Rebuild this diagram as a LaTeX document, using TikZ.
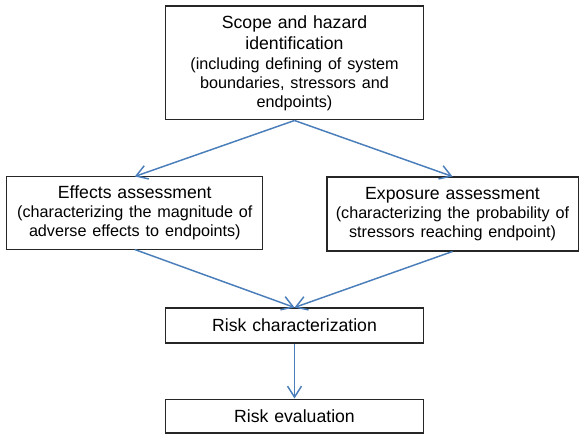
\documentclass[tikz,border=0pt]{standalone}
\usepackage{fontspec}
\setmainfont{Liberation Sans}
\usetikzlibrary{arrows.meta}
\definecolor{flowblue}{HTML}{4A7EBB}
\tikzstyle{box}=[rectangle,draw=black!85,line width=0.7pt,align=center,inner xsep=0pt,inner ysep=0pt,font=\fontsize{12}{14.8}\selectfont]
\tikzstyle{flow}=[draw=flowblue,line width=1pt,-{Straight Barb[length=7.5pt,width=9.5pt,line width=1pt]}]
\newcommand{\remark}{\fontsize{11}{13}\selectfont}

\begin{document}
\begin{tikzpicture}[x=0.68pt,y=-0.68pt]
\useasboundingbox (0,0) rectangle (579,434);
\node (scope) at (294.5,63) [box,text width=174.8pt,minimum height=77.5pt] {Scope and hazard\\identification\par
  {\remark (including defining of system\\boundaries, stressors and\\endpoints)\par}};
\node (effects) at (134.8,213) [box,text width=174pt,minimum height=49pt] {Effects assessment\par
  {\remark (characterizing the magnitude of\\adverse effects to endpoints)\par}};
\node (exposure) at (452.5,214) [box,text width=170.7pt,minimum height=50.3pt] {Exposure assessment\par
  {\remark (characterizing the probability of\\stressors reaching endpoint)\par}};
\node (riskchar) at (294.5,325.5) [box,text width=174.8pt,minimum height=23.8pt] {Risk characterization};
\node (riskeval) at (294.5,416) [box,text width=174.8pt,minimum height=23.1pt] {Risk evaluation};

\draw[flow] (scope.south) -- (effects.north);
\draw[flow] (scope.south) -- (exposure.north);
\draw[flow] (effects.south) -- (riskchar.north);
\draw[flow] (exposure.south) -- (riskchar.north);
\draw[flow] (riskchar.south) -- (riskeval.north);
\end{tikzpicture}
\end{document}
